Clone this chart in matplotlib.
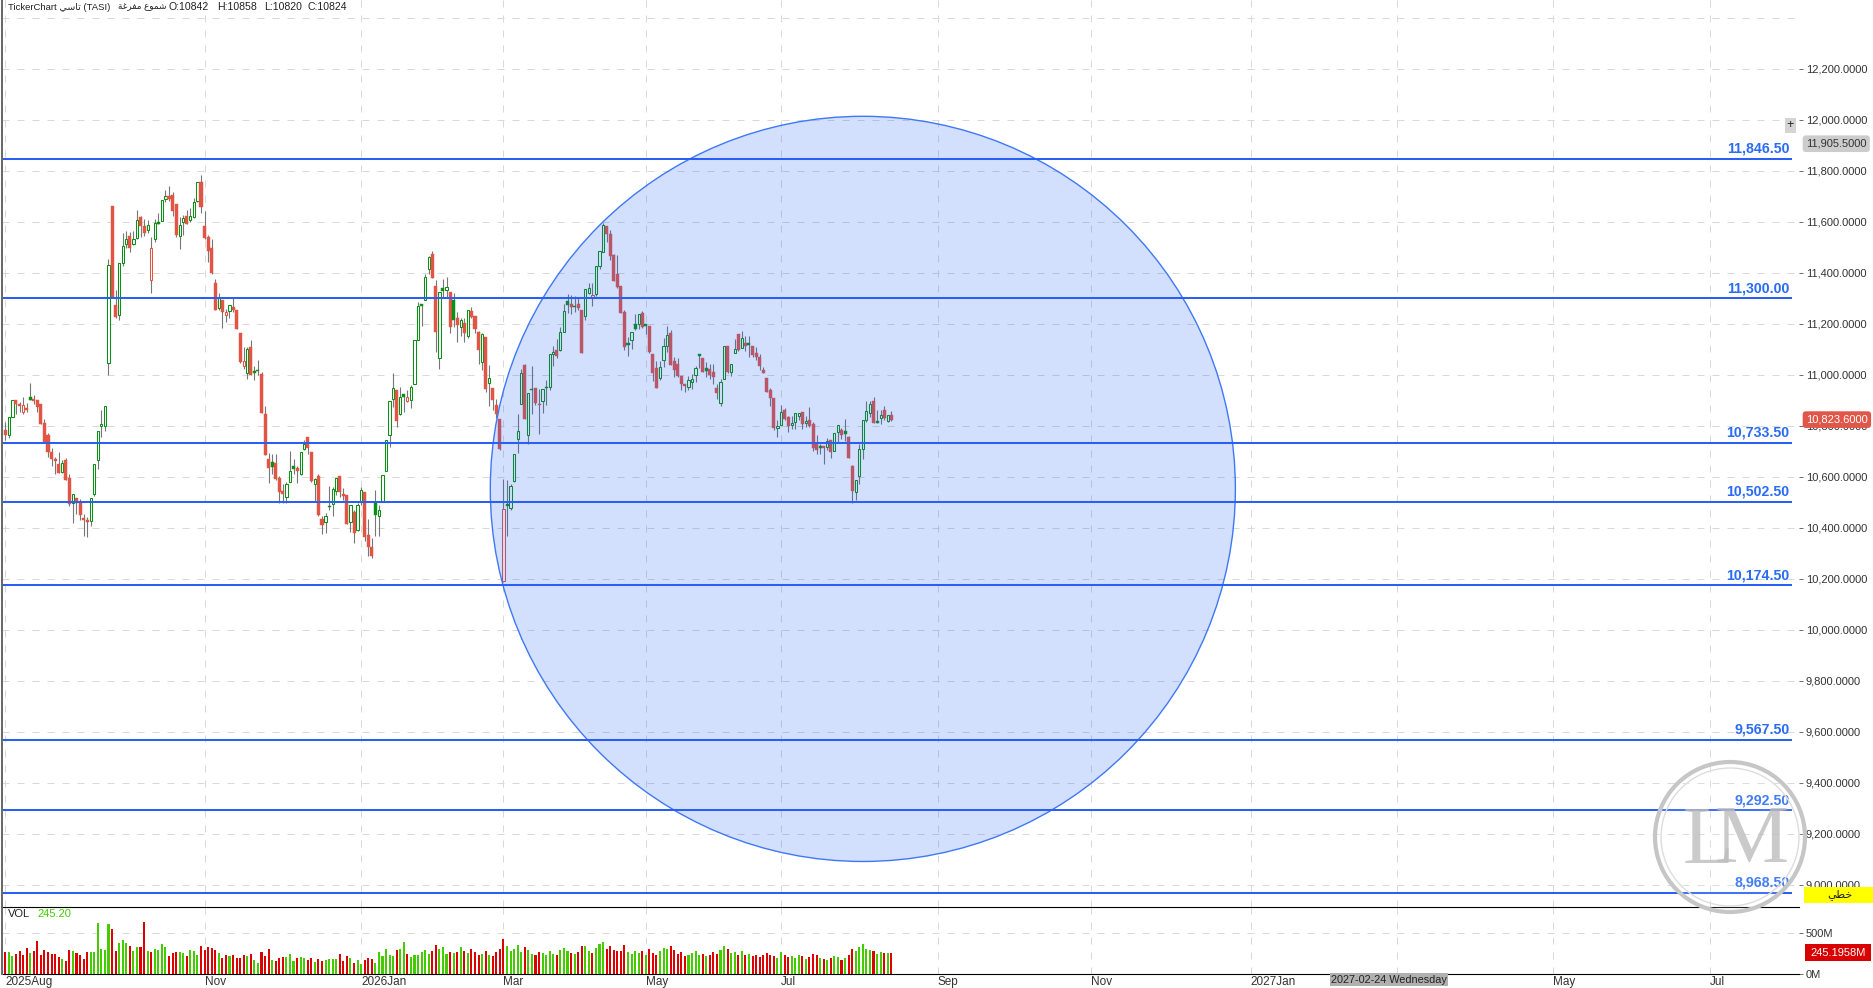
import matplotlib
matplotlib.use("Agg")
import matplotlib.pyplot as plt
from matplotlib.patches import Circle, Ellipse, Rectangle
from matplotlib.transforms import IdentityTransform

plt.rcParams["font.family"] = ["Liberation Sans", "DejaVu Sans"]

# daily candles
opens = [
    10783, 10765, 10832, 10900, 10885, 10855, 10868, 10911, 10903, 10900,
    10885, 10809, 10762, 10698, 10668, 10648, 10618, 10664, 10594, 10497,
    10518, 10498, 10437, 10429, 10426, 10532, 10665, 10799, 10800, 11047,
    11661, 11273, 11232, 11439, 11514, 11544, 11514, 11535, 11617, 11582,
    11566, 11373, 11531, 11599, 11604, 11688, 11701, 11705, 11669, 11543,
    11600, 11622, 11605, 11617, 11679, 11756, 11583, 11540, 11497, 11360,
    11263, 11293, 11233, 11249, 11265, 11254, 11164, 11035, 11008, 11109,
    11013, 11018, 11003, 10846, 10669, 10656, 10652, 10593, 10542, 10520,
    10579, 10641, 10634, 10610, 10708, 10754, 10695, 10571, 10601, 10433,
    10422, 10486, 10494, 10544, 10601, 10533, 10527, 10421, 10460, 10391,
    10501, 10539, 10370, 10323, 10497, 10446, 10501, 10622, 10765, 10905,
    10940, 10846, 10924, 10898, 10902, 10965, 11137, 11277, 11292, 11416,
    11473, 11348, 11067, 11340, 11331, 11324, 11293, 11222, 11188, 11203,
    11153, 11250, 11230, 11167, 11051, 11148, 10966, 10948, 10881, 10826,
    10191, 10492, 10477, 10582, 10749, 10885, 11037, 10762, 10945, 10946,
    10886, 10897, 10953, 10952, 11081, 11095, 11097, 11167, 11288, 11276,
    11271, 11276, 11252, 11231, 11320, 11302, 11316, 11427, 11481, 11584,
    11550, 11468, 11396, 11349, 11244, 11123, 11136, 11200, 11199, 11240,
    11197, 11190, 11080, 11025, 10987, 11058, 11112, 11165, 11052, 11041,
    10995, 10962, 10952, 10971, 10999, 11080, 11064, 11025, 11024, 11009,
    10949, 10889, 10984, 11114, 11010, 11086, 11158, 11106, 11123, 11123,
    11111, 11084, 11068, 11017, 10988, 10939, 10907, 10791, 10803, 10860,
    10833, 10803, 10813, 10839, 10852, 10810, 10824, 10805, 10727, 10719,
    10719, 10716, 10745, 10702, 10774, 10782, 10778, 10754, 10641, 10540,
    10603, 10709, 10822, 10850, 10898, 10817, 10830, 10860, 10817, 10842,
]
highs = [
    10813, 10833, 10900, 10900, 10894, 10914, 10888, 10968, 10920, 10900,
    10885, 10825, 10773, 10711, 10677, 10696, 10664, 10672, 10609, 10530,
    10518, 10514, 10452, 10443, 10518, 10651, 10780, 10862, 10876, 11454,
    11661, 11332, 11437, 11554, 11563, 11561, 11563, 11646, 11622, 11609,
    11607, 11541, 11609, 11633, 11684, 11724, 11740, 11716, 11669, 11617,
    11626, 11646, 11652, 11692, 11754, 11782, 11642, 11546, 11532, 11375,
    11319, 11293, 11256, 11272, 11299, 11254, 11164, 11110, 11110, 11136,
    11034, 11058, 11010, 10877, 10692, 10689, 10689, 10601, 10573, 10579,
    10699, 10668, 10641, 10698, 10742, 10754, 10695, 10595, 10609, 10444,
    10459, 10562, 10559, 10596, 10601, 10554, 10527, 10490, 10468, 10497,
    10559, 10539, 10433, 10358, 10546, 10488, 10608, 10745, 10896, 11005,
    10940, 10950, 10924, 10940, 10960, 11135, 11285, 11277, 11395, 11465,
    11485, 11371, 11323, 11375, 11383, 11324, 11319, 11244, 11221, 11221,
    11252, 11265, 11230, 11170, 11163, 11148, 11038, 10948, 10906, 10826,
    10592, 10586, 10570, 10690, 10846, 11021, 11041, 10929, 11033, 10946,
    10945, 10945, 10980, 11080, 11111, 11139, 11186, 11276, 11315, 11314,
    11307, 11305, 11252, 11337, 11358, 11358, 11427, 11486, 11595, 11584,
    11566, 11474, 11468, 11349, 11252, 11148, 11169, 11239, 11239, 11248,
    11197, 11190, 11080, 11054, 11052, 11145, 11191, 11174, 11069, 11067,
    10995, 10962, 10993, 11004, 11033, 11080, 11064, 11051, 11043, 11041,
    10965, 10982, 11114, 11114, 11043, 11140, 11158, 11171, 11150, 11150,
    11111, 11109, 11082, 11030, 10988, 10949, 10907, 10821, 10880, 10869,
    10837, 10839, 10851, 10851, 10852, 10837, 10872, 10813, 10762, 10727,
    10719, 10753, 10745, 10773, 10804, 10792, 10825, 10760, 10644, 10588,
    10729, 10824, 10895, 10897, 10911, 10860, 10863, 10876, 10843, 10858,
]
lows = [
    10744, 10751, 10832, 10846, 10855, 10846, 10855, 10901, 10885, 10855,
    10808, 10736, 10677, 10642, 10609, 10613, 10616, 10586, 10484, 10418,
    10452, 10429, 10366, 10364, 10405, 10523, 10629, 10757, 10779, 10999,
    11303, 11221, 11215, 11426, 11496, 11482, 11509, 11531, 11541, 11544,
    11557, 11322, 11522, 11591, 11604, 11678, 11682, 11622, 11541, 11494,
    11548, 11591, 11600, 11614, 11675, 11633, 11531, 11443, 11395, 11254,
    11254, 11184, 11208, 11224, 11247, 11177, 11045, 11022, 10981, 10999,
    10977, 10999, 10851, 10685, 10577, 10611, 10587, 10497, 10497, 10497,
    10579, 10609, 10575, 10608, 10706, 10688, 10578, 10501, 10444, 10374,
    10379, 10471, 10444, 10527, 10520, 10510, 10414, 10383, 10340, 10387,
    10488, 10348, 10288, 10281, 10366, 10366, 10501, 10622, 10718, 10875,
    10794, 10842, 10855, 10894, 10871, 10965, 11137, 11192, 11292, 11395,
    11380, 11090, 11022, 11303, 11303, 11163, 11188, 11128, 11153, 11128,
    11145, 11221, 11165, 11042, 11018, 10930, 10877, 10862, 10829, 10705,
    10186, 10366, 10471, 10579, 10692, 10885, 10826, 10729, 10847, 10880,
    10769, 10850, 10880, 10939, 11033, 11065, 11093, 11167, 11242, 11239,
    11244, 11252, 11085, 11216, 11318, 11268, 11308, 11416, 11481, 11520,
    11448, 11367, 11341, 11242, 11095, 11073, 11099, 11176, 11180, 11184,
    11158, 11085, 10974, 10948, 10978, 11030, 11089, 11038, 10991, 10991,
    10941, 10932, 10939, 10943, 10970, 11027, 11010, 10991, 10982, 10962,
    10906, 10876, 10982, 11008, 10993, 11086, 11091, 11103, 11091, 11069,
    11069, 11056, 11017, 11005, 10931, 10876, 10784, 10756, 10803, 10821,
    10774, 10788, 10786, 10821, 10786, 10795, 10795, 10699, 10690, 10690,
    10648, 10703, 10673, 10702, 10736, 10746, 10740, 10672, 10497, 10507,
    10570, 10668, 10814, 10834, 10809, 10810, 10805, 10821, 10814, 10820,
]
closes = [
    10764, 10833, 10900, 10885, 10877, 10879, 10862, 10902, 10897, 10875,
    10808, 10736, 10695, 10668, 10662, 10613, 10655, 10588, 10492, 10530,
    10498, 10448, 10430, 10421, 10518, 10651, 10780, 10808, 10876, 11429,
    11303, 11226, 11437, 11503, 11531, 11498, 11531, 11605, 11583, 11557,
    11586, 11496, 11594, 11592, 11684, 11699, 11689, 11643, 11548, 11586,
    11613, 11591, 11621, 11676, 11754, 11659, 11537, 11486, 11399, 11254,
    11302, 11247, 11246, 11272, 11254, 11177, 11051, 11052, 11100, 10999,
    11008, 11013, 10851, 10685, 10634, 10639, 10591, 10539, 10531, 10573,
    10624, 10630, 10621, 10698, 10727, 10711, 10582, 10590, 10448, 10409,
    10447, 10481, 10553, 10596, 10539, 10523, 10414, 10490, 10379, 10490,
    10549, 10363, 10324, 10288, 10450, 10471, 10608, 10745, 10896, 10946,
    10820, 10911, 10914, 10911, 10950, 11135, 11268, 11271, 11382, 11460,
    11380, 11167, 11323, 11326, 11343, 11187, 11216, 11195, 11213, 11163,
    11252, 11226, 11179, 11097, 11158, 10945, 10986, 10901, 10846, 10710,
    10475, 10485, 10565, 10690, 10778, 11008, 10826, 10929, 10940, 10888,
    10880, 10945, 10948, 11080, 11090, 11073, 11169, 11251, 11273, 11264,
    11265, 11260, 11085, 11337, 11341, 11314, 11427, 11486, 11588, 11550,
    11465, 11367, 11344, 11242, 11109, 11116, 11169, 11179, 11239, 11187,
    11191, 11089, 11007, 10948, 11031, 11114, 11157, 11038, 11017, 10993,
    10962, 10954, 10980, 10984, 11027, 11073, 11010, 11014, 10997, 10991,
    10928, 10973, 11114, 11010, 11043, 11102, 11095, 11145, 11112, 11116,
    11077, 11069, 11034, 11007, 10931, 10907, 10790, 10800, 10855, 10825,
    10799, 10812, 10851, 10851, 10805, 10820, 10797, 10711, 10703, 10712,
    10712, 10741, 10695, 10773, 10804, 10762, 10767, 10672, 10543, 10588,
    10707, 10824, 10859, 10886, 10809, 10810, 10843, 10829, 10843, 10824,
]
candle_colors = (
    "rggrrrrgrr" "rrrrrrgrrg" "rrrrgggggg" "rrgggrggrr" "grggggrrrg"
    "grgggrrrrr" "grrgrrrrgr" "ggrrrgrrrg" "ggrggrrgrr" "ggggrrrgrg"
    "grrrgggggg" "rggrgggggg" "rrgggrgrgr" "grrrgrgrrr" "rgggggrggr"
    "rggggrgggr" "grrggrgggr" "rrrrrggggr" "grrrgggrrr" "rrggggrgrr"
    "rggrggrgrg" "rrrrrrrggr" "rgggrgrrrg" "rgrggrgrrg" "ggggrggrgr"
)
volumes = [
    260, 260, 212, 236, 273, 224, 309, 248, 273, 395,
    224, 285, 260, 236, 236, 199, 175, 151, 285, 273,
    248, 224, 175, 260, 260, 260, 615, 297, 285, 602,
    541, 273, 370, 407, 370, 334, 273, 322, 322, 627,
    273, 260, 297, 285, 358, 322, 212, 248, 260, 260,
    248, 212, 285, 273, 224, 334, 285, 322, 309, 285,
    248, 187, 224, 212, 224, 187, 187, 224, 212, 236,
    163, 126, 260, 212, 297, 163, 151, 187, 199, 199,
    236, 151, 187, 199, 187, 163, 187, 138, 175, 151,
    163, 175, 175, 175, 236, 151, 212, 187, 126, 163,
    114, 163, 187, 175, 126, 260, 212, 297, 224, 212,
    285, 297, 383, 236, 199, 224, 224, 260, 285, 236,
    273, 346, 297, 322, 236, 260, 248, 260, 322, 270,
    250, 300, 260, 220, 240, 280, 230, 210, 260, 300,
    420, 330, 280, 300, 350, 260, 320, 290, 240, 230,
    260, 250, 220, 270, 240, 230, 290, 310, 270, 250,
    240, 260, 340, 330, 280, 250, 310, 360, 390, 300,
    330, 290, 270, 280, 350, 260, 240, 270, 250, 280,
    230, 300, 250, 230, 280, 310, 300, 340, 290, 240,
    260, 210, 230, 250, 270, 220, 240, 210, 230, 260,
    240, 290, 340, 300, 250, 260, 230, 270, 220, 240,
    210, 230, 200, 220, 250, 230, 210, 190, 260, 220,
    200, 210, 190, 220, 210, 180, 200, 240, 220, 190,
    180, 170, 190, 210, 200, 170, 190, 230, 300, 280,
    320, 360, 300, 290, 280, 240, 260, 250, 255, 245.2,
]

# support / resistance levels and the drawn circle
levels = [11846.5, 11300.0, 10733.5, 10502.5, 10174.5, 9567.5, 9292.5, 8968.5]
circle_center = (241, 10552)
circle_size = (209.4, 2922)

# month ticks sit on candle positions, the axis runs on past the last candle
month_pos = [0, 56, 100, 140, 180, 218, 262, 305, 350, 391, 435, 479]
month_labels = ["2025Aug", "Nov", "2026Jan", "Mar", "May", "Jul", "Sep", "Nov",
                "2027Jan", "", "May", "Jul"]
price_ticks = [9000 + 200 * i for i in range(17)]
cursor_date = "2027-02-24 Wednesday"

# arabic strings in visual order, matplotlib does no shaping of its own
title_ar = "\ufef2\ufeb3\ufe8e\ufe97"
style_ar = "\ufe94\ufecf\ufeae\ufed4\ufee3 \ufec9\ufeee\ufee4\ufeb7"
line_ar = "\ufef2\ufec4\ufea7"

W, H = 1874, 988
RED = "#e25544"
GREEN = "#0a9014"
GRID = "#d9d9d9"
BLUE = "#2a5ff5"
DASH = (0, (7, 8))

fig = plt.figure(figsize=(W / 100, H / 100), dpi=100)
left, right = 2.5 / W, 1799 / W
ax = fig.add_axes([left, 1 - 907 / H, right - left, 907 / H])
ax_vol = fig.add_axes([left, 1 - 973.5 / H, right - left, 66.5 / H], sharex=ax)

x = list(range(len(opens)))
for i in x:
    c = RED if candle_colors[i] == "r" else GREEN
    top, bottom = max(opens[i], closes[i]), min(opens[i], closes[i])
    ax.vlines(i, lows[i], highs[i], color="#777777", lw=0.8, zorder=2)
    if closes[i] > opens[i]:
        ax.bar(i, top - bottom, 0.62, bottom, facecolor="white", edgecolor=c, lw=0.75, zorder=3)
    else:
        ax.bar(i, top - bottom, 0.85, bottom, facecolor=c, edgecolor=c, lw=0.3, zorder=3)

ax.add_patch(Ellipse(circle_center, *circle_size, facecolor=(30 / 255, 95 / 255, 245 / 255, 0.2),
                     edgecolor="#3f78f5", lw=1, zorder=4))

line_end = 502
for lvl in levels:
    ax.plot([-0.6, line_end], [lvl, lvl], color=BLUE, lw=1.45, zorder=5, solid_capstyle="butt")
    ax.annotate(f"{lvl:,.2f}", xy=(line_end - 0.5, lvl), xytext=(0, 3), textcoords="offset pixels",
                ha="right", va="bottom", color="#2a6cf5", fontsize=10.2, fontweight="bold", zorder=6)

ax.set_xlim(-0.79, 504.1)
ax.set_ylim(8912.5, 12469)
ax.set_xticks(month_pos)
ax.set_yticks(price_ticks + [12400])
ax.set_yticklabels([f"{p:,.4f}" for p in price_ticks] + [""], fontsize=8, color="#333333")
ax.yaxis.tick_right()
ax.tick_params(axis="y", length=3, width=0.6, pad=2, color="#555555")
ax.yaxis.get_major_ticks()[-1].tick2line.set_visible(False)
ax.tick_params(axis="x", length=0, labelbottom=False)
ax.grid(True, color=GRID, lw=0.72, linestyle=DASH, zorder=0)
ax.set_axisbelow(True)
for s in ["top", "right", "bottom"]:
    ax.spines[s].set_visible(False)
ax.spines["left"].set_color("#666666")
ax.spines["left"].set_linewidth(1.4)

# volume panel
vol_colors = ["#dd0000" if c == "r" else "#44cc00" for c in candle_colors]
ax_vol.bar(x, volumes, 0.58, color=vol_colors, zorder=3)
ax_vol.set_ylim(0, 811)
ax_vol.set_yticks([0, 500])
ax_vol.set_yticklabels(["0M", "500M"], fontsize=8, color="#333333")
ax_vol.get_yticklabels()[0].set_va("bottom")
ax_vol.yaxis.tick_right()
ax_vol.tick_params(axis="y", length=3, width=0.6, pad=2, color="#555555")
ax_vol.set_xticks(month_pos)
ax_vol.set_xticklabels(month_labels, fontsize=8.5, color="#333333", ha="left")
ax_vol.tick_params(axis="x", length=0, pad=1.5)
ax_vol.grid(True, color=GRID, lw=0.72, linestyle=DASH, zorder=0)
ax_vol.set_axisbelow(True)
ax_vol.spines["right"].set_visible(False)
ax_vol.spines["top"].set_color("black")
ax_vol.spines["top"].set_linewidth(0.8)
ax_vol.spines["bottom"].set_color("black")
ax_vol.spines["left"].set_color("#666666")
ax_vol.spines["left"].set_linewidth(1.4)

# header texts
fig.text(8 / W, 1 - 7 / H, f"TickerChart {title_ar} (TASI)", fontsize=6.8, color="#222222", va="center")
fig.text(118 / W, 1 - 7 / H, style_ar, fontsize=6.4, color="#222222", va="center")
fig.text(169 / W, 1 - 7 / H, f"O:{opens[-1]}", fontsize=7.6, color="#222222", va="center")
fig.text(217 / W, 1 - 7 / H, f"H:{highs[-1]}", fontsize=7.6, color="#222222", va="center")
fig.text(264 / W, 1 - 7 / H, f"L:{lows[-1]}", fontsize=7.6, color="#222222", va="center")
fig.text(308 / W, 1 - 7 / H, f"C:{closes[-1]}", fontsize=7.6, color="#222222", va="center")
fig.text(8 / W, 1 - 914 / H, "VOL", fontsize=8, color="#222222", va="center")
fig.text(37 / W, 1 - 914 / H, f"{volumes[-1]:.2f}", fontsize=8, color="#44cc00", va="center")

# price tags on the right hand scale
ax.annotate("11,905.5000", xy=(1, 11905.5), xycoords=ax.get_yaxis_transform(), xytext=(7, 0),
            textcoords="offset pixels", va="center", fontsize=8, color="#333333", annotation_clip=False,
            bbox=dict(boxstyle="round,pad=0.3", fc="#cccccc", ec="none"))
ax.annotate("10,823.6000", xy=(1, 10823.6), xycoords=ax.get_yaxis_transform(), xytext=(7, 0),
            textcoords="offset pixels", va="center", fontsize=8, color="white", annotation_clip=False,
            bbox=dict(boxstyle="round,pad=0.3", fc="#e0574a", ec="none"))
ax.text(501.6, 11977, "+", fontsize=9, ha="center", va="center", color="#222222", zorder=7,
        bbox=dict(boxstyle="square,pad=0.15", fc="#d4d4d4", ec="none"))

fig.add_artist(Rectangle((1804, H - 903), 70, 16, transform=IdentityTransform(), fc="#ffff00", ec="none"))
fig.text(1840 / W, 1 - 895 / H, line_ar, fontsize=8, color="#222222", ha="center", va="center",
         family=["DejaVu Sans"])
fig.add_artist(Rectangle((1805, H - 961), 66, 17, transform=IdentityTransform(), fc="#d80000", ec="none"))
fig.text(1838 / W, 1 - 952.5 / H, "245.1958M", fontsize=8, color="white", ha="center", va="center")
fig.text(1389 / W, 1 - 979.5 / H, cursor_date, fontsize=7.8, color="#222222", ha="center", va="center",
         bbox=dict(boxstyle="square,pad=0.1", fc="#b0b0b0", ec="none"))

# watermark
fig.add_artist(Circle((1730, H - 837), 75, transform=IdentityTransform(),
                      fc=(1, 1, 1, 0.12), ec="#c6c6c6", lw=3))
fig.add_artist(Circle((1730, H - 837), 69, transform=IdentityTransform(),
                      fc="none", ec="#dddddd", lw=1))
fig.text(1708 / W, 1 - 843 / H, "L", fontsize=60, family=["Liberation Serif"], color="#bdbdbd",
         alpha=0.8, ha="center", va="center")
fig.text(1752 / W, 1 - 842 / H, "M", fontsize=60, family=["Liberation Serif"], color="#bdbdbd",
         alpha=0.8, ha="center", va="center")

fig.savefig("out.png", dpi=100)
